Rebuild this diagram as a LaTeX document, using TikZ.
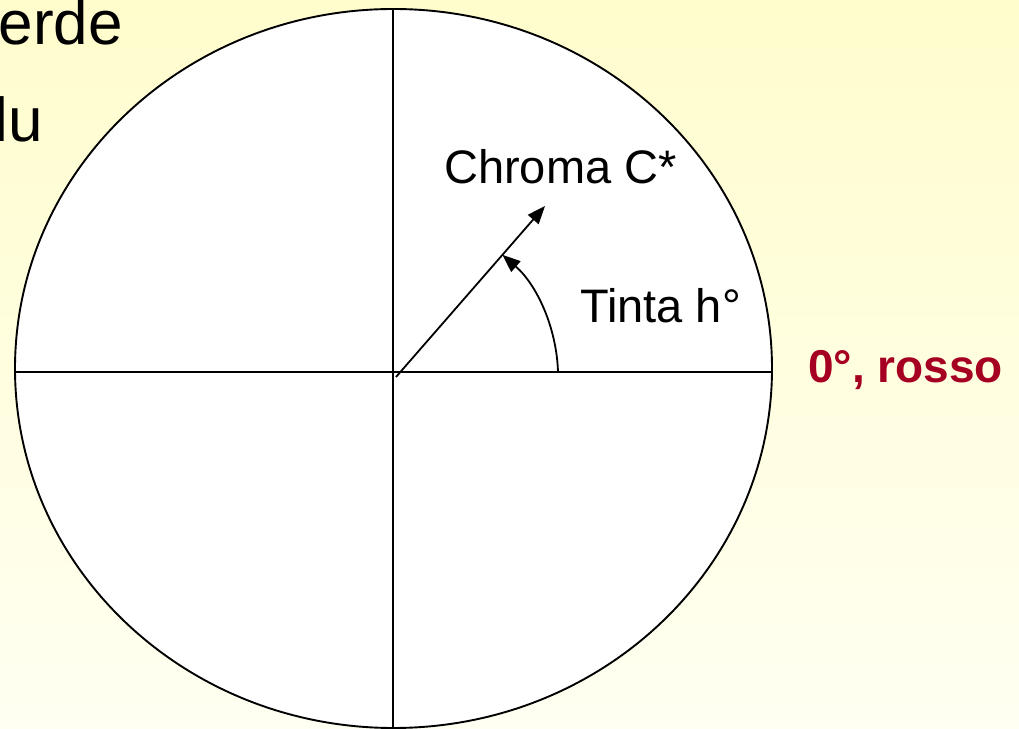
\documentclass[tikz,border=0pt]{standalone}
\usepackage{fontspec}
\setmainfont{Liberation Sans}
\usetikzlibrary{arrows.meta}
\definecolor{bgtop}{RGB}{255,253,204}
\definecolor{bgbot}{RGB}{255,255,242}
\definecolor{rosso}{RGB}{165,0,33}
\tikzset{
  lbl/.style={inner sep=0pt, font=\fontsize{47}{50}\selectfont},
  biglbl/.style={inner sep=0pt, font=\fontsize{62}{66}\selectfont},
  redlbl/.style={inner sep=0pt, font=\fontsize{46}{50}\selectfont\bfseries, text=rosso},
  axis/.style={line width=1.8pt, draw=black},
  arr/.style={line width=1.8pt, -{Triangle[length=18pt,width=14pt]}}
}
\begin{document}
\begin{tikzpicture}[x=1pt,y=1pt]
\useasboundingbox (0,0) rectangle (1019,728);
\shade[top color=bgtop, bottom color=bgbot] (0,0) rectangle (1019,728);
\begin{scope}
\clip (0,0) rectangle (1019,728);
% circle
\draw[line width=1.9pt, fill=white] (393.5,359.5) ellipse [x radius=378.5pt, y radius=359.5pt];
% axes
\coordinate (top) at (393,719);
\coordinate (bot) at (393,0);
\coordinate (lft) at (15,356);
\coordinate (rgt) at (772,356);
\draw[axis] (top) -- (bot);
\draw[axis] (lft) -- (rgt);
% chroma arrow
\coordinate (O) at (396,351);
\coordinate (ctip) at (545,522);
\draw[arr] (O) -- (ctip);
% hue arc
\coordinate (astart) at (558,356);
\draw[arr] (astart) arc[start angle=1.8, end angle=49, radius=162pt];
% labels
\node[lbl, anchor=base west] (chroma) at (444,544) {Chroma C*};
\node[lbl, anchor=base west] (tinta) at (580,405) {Tinta h°};
\node[redlbl, anchor=base west] (rosso) at (808,345) {0°, rosso};
\node[biglbl, anchor=base east] (verde) at (123,683) {erde};
\node[biglbl, anchor=base east] (blu) at (43,586) {lu};
\end{scope}
\end{tikzpicture}
\end{document}
